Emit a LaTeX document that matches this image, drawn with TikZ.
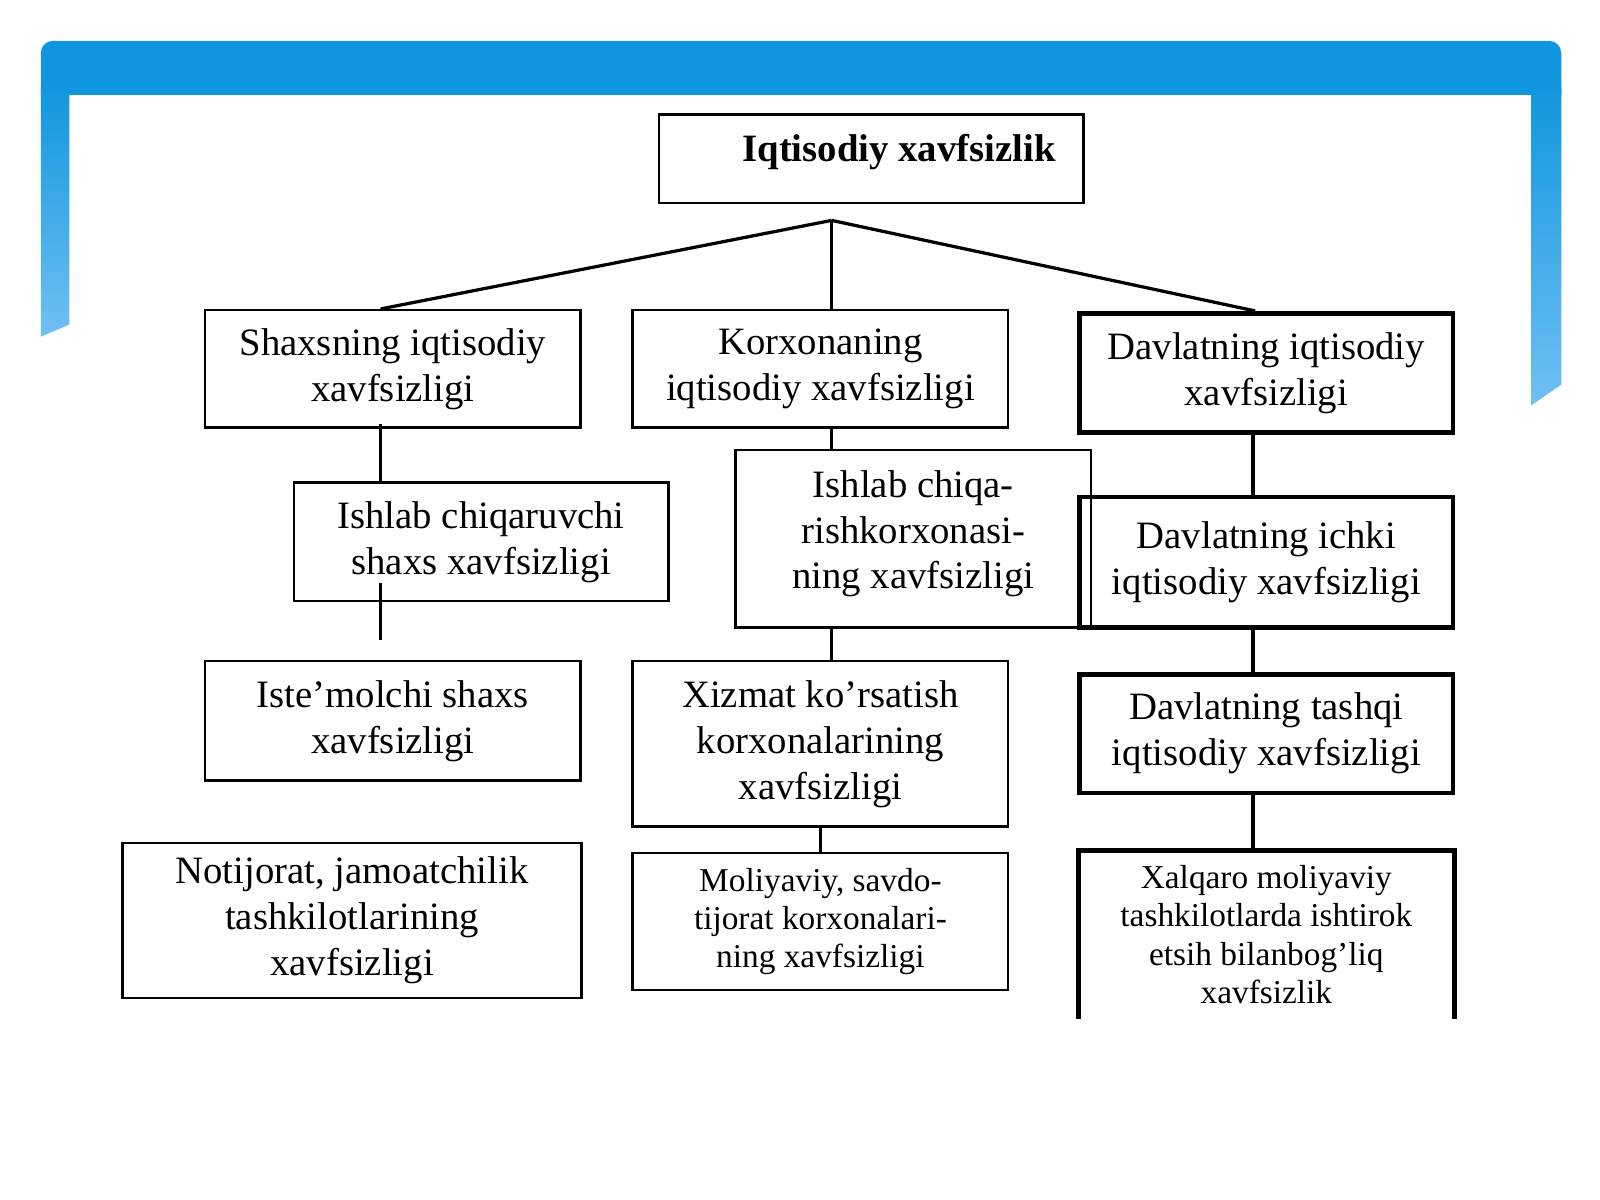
\documentclass[tikz,border=0pt]{standalone}
\usepackage{fontspec}
\setmainfont{Liberation Serif}
\usepackage{xcolor}
\usepackage{tikz}
\usetikzlibrary{shapes,positioning,calc}
\definecolor{bannerblue}{RGB}{16,150,222}
\definecolor{bannerlight}{RGB}{112,192,242}

\begin{document}
\begin{tikzpicture}[
    box/.style={draw, line width=0.7pt, align=center, inner sep=0pt, font=\fontsize{10.8}{12.8}\selectfont},
    thickbox/.style={box, line width=1.3pt},
    smallbox/.style={box, font=\fontsize{9.3}{10.7}\selectfont},
    link/.style={line width=0.7pt}
]
    \useasboundingbox[fill=white] (0,0) rectangle (15.68,-11.76);

    % banner
    \fill[bannerblue] (0.40,-0.93) [rounded corners=0.12cm] -- (0.40,-0.40) -- (15.30,-0.40) [sharp corners] -- (15.30,-0.93) -- cycle;
    \shade[top color=bannerblue, bottom color=bannerlight] (0.40,-0.85) -- (0.68,-0.85) -- (0.68,-3.18) -- (0.40,-3.30) -- cycle;
    \shade[top color=bannerblue, bottom color=bannerlight] (15.01,-0.85) -- (15.30,-0.85) -- (15.30,-3.77) -- (15.01,-3.97) -- cycle;

    % root
    \node[box, minimum width=4.16cm, minimum height=0.87cm, label={[xshift=0.27cm, yshift=0.06cm, font=\fontsize{10.8}{12.8}\selectfont\bfseries]center:Iqtisodiy xavfsizlik}] (root) at (8.54,-1.555) {};
    \coordinate (fork) at (8.15,-2.16);

    % first level
    \node[box, minimum width=3.68cm, minimum height=1.15cm] (shaxs) at (3.85,-3.615) {Shaxsning iqtisodiy\\xavfsizligi};
    \node[box, minimum width=3.68cm, minimum height=1.15cm] (korx) at (8.04,-3.615) {Korxonaning\\iqtisodiy xavfsizligi};
    \node[thickbox, minimum width=3.66cm, minimum height=1.17cm] (davl) at (12.41,-3.655) {Davlatning iqtisodiy\\xavfsizligi};

    % second level
    \node[box, minimum width=3.67cm, minimum height=1.16cm] (ishshaxs) at (4.715,-5.31) {Ishlab chiqaruvchi\\shaxs xavfsizligi};
    \node[box, minimum width=3.48cm, minimum height=1.74cm, text depth=0.18cm] (ishkorx) at (8.95,-5.28) {Ishlab chiqa-\\rishkorxonasi-\\ning xavfsizligi};
    \node[thickbox, minimum width=3.66cm, minimum height=1.28cm] (ichki) at (12.41,-5.51) {Davlatning ichki\\iqtisodiy xavfsizligi};

    % third level
    \node[box, minimum width=3.68cm, minimum height=1.17cm] (istem) at (3.85,-7.065) {Iste’molchi shaxs\\xavfsizligi};
    \node[box, minimum width=3.68cm, minimum height=1.62cm] (xizmat) at (8.04,-7.29) {Xizmat ko’rsatish\\korxonalarining\\xavfsizligi};
    \node[thickbox, minimum width=3.66cm, minimum height=1.16cm] (tashqi) at (12.41,-7.19) {Davlatning tashqi\\iqtisodiy xavfsizligi};

    % fourth level
    \node[box, minimum width=4.50cm, minimum height=1.52cm] (notij) at (3.45,-9.02) {Notijorat, jamoatchilik\\tashkilotlarining\\xavfsizligi};
    \node[smallbox, minimum width=3.68cm, minimum height=1.34cm] (moliya) at (8.04,-9.03) {Moliyaviy, savdo-\\tijorat korxonalari-\\ning xavfsizligi};
    \node[smallbox, draw=none, minimum width=3.66cm, minimum height=1.62cm] (xalq) at (12.41,-9.16) {Xalqaro moliyaviy\\tashkilotlarda ishtirok\\etsih bilanbog’liq\\xavfsizlik};
    \draw[line width=1.3pt] (xalq.south west) |- (xalq.north east) -- (xalq.south east);

    % links from root
    \draw[link, line width=0.9pt] (fork) -- ([xshift=-0.12cm]shaxs.north);
    \draw[link] (fork) -- (fork |- korx.north);
    \draw[link, line width=0.9pt] (fork) -- ([xshift=-0.11cm]davl.north);

    % left column
    \coordinate (lcol) at ([xshift=-0.12cm, yshift=0.05cm]shaxs.south);
    \draw[link] (lcol) -- (lcol |- ishshaxs.north);
    \draw[link] ($(lcol |- ishshaxs.south)+(0,0.19)$) -- ($(lcol |- istem.north)+(0,0.20)$);

    % middle column
    \draw[link] (fork |- korx.south) -- (fork |- ishkorx.north);
    \draw[link] (fork |- ishkorx.south) -- (fork |- xizmat.north);
    \draw[link] (xizmat) -- (moliya);

    % right column
    \coordinate (rcol) at ([xshift=-0.13cm]davl.south);
    \draw[link, line width=1pt] (rcol) -- (rcol |- ichki.north);
    \draw[link, line width=1pt] (rcol |- ichki.south) -- (rcol |- tashqi.north);
    \draw[link, line width=1pt] (rcol |- tashqi.south) -- (rcol |- xalq.north);
\end{tikzpicture}
\end{document}
